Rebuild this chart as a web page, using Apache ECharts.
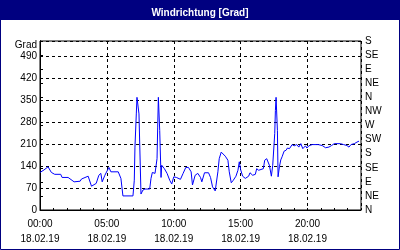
<!DOCTYPE html>
<html><head><meta charset="utf-8">
<script src="https://cdn.jsdelivr.net/npm/echarts@6/dist/echarts.min.js"></script>
<style>html,body{margin:0;padding:0;background:#fff}#c{width:400px;height:250px}</style>
</head><body><div id="c"></div>
<script>
const titleText = 'Windrichtung [Grad]';
const yName = 'Grad';
const dateLabel = '18.02.19';
const compass = ['N','NE','E','SE','S','SW','W','NW'];
const hours = [0.0,0.3,0.6,0.85,1.1,1.55,1.65,2.1,2.55,3.0,3.1,3.6,3.7,3.85,4.2,4.4,4.55,4.65,4.85,5.15,5.3,5.85,6.05,6.2,6.95,7.05,7.1,7.2,7.25,7.35,7.4,7.55,7.7,7.85,8.2,8.3,8.4,8.6,8.75,8.8,8.85,8.95,9.05,9.1,9.3,9.5,9.7,9.85,10.0,10.2,10.5,10.7,10.9,11.1,11.3,11.4,11.6,11.8,12.0,12.1,12.3,12.6,12.75,12.9,13.1,13.2,13.3,13.4,13.55,13.65,13.85,14.05,14.15,14.3,14.45,14.65,14.8,14.9,15.0,15.15,15.35,15.6,15.7,15.9,16.1,16.2,16.35,16.45,16.7,16.8,16.95,17.15,17.3,17.4,17.55,17.6,17.65,17.75,17.8,17.9,18.0,18.1,18.25,18.4,18.5,18.65,18.85,19.0,19.2,19.35,19.5,19.65,19.85,19.95,20.1,20.35,20.8,21.1,21.35,21.6,21.8,22.0,22.45,22.7,22.95,23.1,23.25,23.5,23.7,23.85];
const degrees = [120,128,138,120,114,114,104,104,90,92,99,108,114,76,85,111,117,90,111,136,122,122,101,45,45,95,201,307,360,360,307,51,64,67,67,101,120,117,164,265,360,254,104,143,132,117,95,83,106,104,98,117,136,136,122,80,111,117,104,90,119,119,104,74,61,58,122,164,185,186,172,159,122,87,95,108,127,154,129,108,101,108,119,111,114,132,127,132,132,159,164,143,108,143,244,318,360,254,106,138,160,170,188,191,198,196,209,205,209,201,212,196,205,198,205,209,209,206,199,201,206,212,212,209,206,201,209,212,217,220];

const font = 'Liberation Sans';
const data = hours.map((h, i) => [h, degrees[i]]);
const chart = echarts.init(document.getElementById('c'), null, {renderer: 'canvas'});
const pad = n => (n < 10 ? '0' : '') + n;
chart.setOption({
  animation: false,
  backgroundColor: '#fff',
  title: {
    text: titleText, left: 'center', top: 3,
    textStyle: {color: '#fff', fontWeight: 'bold', fontSize: 10, fontFamily: font}
  },
  graphic: [
    {type: 'rect', shape: {x: 0, y: 0, width: 400, height: 20}, style: {fill: '#000080'}, z: -1},
    {type: 'rect', shape: {x: 0.5, y: 0.5, width: 399, height: 249}, style: {fill: 'none', stroke: '#000080', lineWidth: 1}, z: -1},
    {type: 'text', x: 37, y: 45, style: {text: yName, fill: '#000', font: '10px "Liberation Sans"', textAlign: 'right', textVerticalAlign: 'middle'}}
  ],
  grid: {left: 40, right: 39, top: 41, bottom: 40, show: true, borderColor: '#000', borderWidth: 1, backgroundColor: '#fff'},
  xAxis: [{
    type: 'value', min: 0, max: 24, interval: 5,
    axisLine: {lineStyle: {color: '#000'}},
    axisTick: {show: false},
    splitLine: {show: true, lineStyle: {color: '#000', type: [3, 3]}},
    axisLabel: {
      color: '#000', fontFamily: font, fontSize: 10, margin: 7, lineHeight: 15,
      showMaxLabel: false,
      formatter: v => pad(v) + ':00\n' + dateLabel
    }
  }, {
    type: 'value', min: 0, max: 24, interval: 1, position: 'bottom',
    axisLine: {show: false},
    axisTick: {show: true, inside: true, length: 2, lineStyle: {color: '#000'}},
    axisLabel: {show: false}, splitLine: {show: false}
  }],
  yAxis: [{
    type: 'value', min: 0, max: 540, interval: 70,
    axisLine: {show: true, lineStyle: {color: '#000'}},
    axisTick: {show: false},
    splitLine: {show: true, lineStyle: {color: '#000', type: [3, 3]}},
    axisLabel: {color: '#000', fontFamily: font, fontSize: 10, margin: 3, showMaxLabel: false}
  }, {
    type: 'value', min: 0, max: 540, interval: 45, position: 'right',
    axisLine: {show: true, lineStyle: {color: '#000'}},
    axisTick: {show: true, length: 3, lineStyle: {color: '#000'}},
    splitLine: {show: false},
    axisLabel: {color: '#000', fontFamily: font, fontSize: 10, margin: 4,
      formatter: v => compass[Math.round(v / 45) % 8]}
  }],
  series: [{
    type: 'line', data: data, xAxisIndex: 0, yAxisIndex: 0,
    showSymbol: false, symbol: 'none',
    lineStyle: {color: '#0000ff', width: 1}
  }]
});
</script></body></html>
